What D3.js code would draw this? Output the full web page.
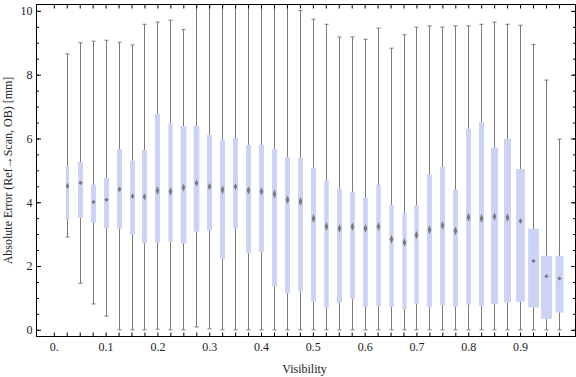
<!DOCTYPE html>
<html>
<head>
<meta charset="utf-8">
<script src="https://cdn.jsdelivr.net/npm/d3@7"></script>
<style>
  body { margin: 0; background: white; }
  text { font-family: "Liberation Serif", "DejaVu Serif", serif; }
</style>
</head>
<body>
<div id="chart"></div>
<script>
var visibility = [0.025, 0.05, 0.075, 0.1, 0.125, 0.15, 0.175, 0.2, 0.225, 0.25,
  0.275, 0.3, 0.325, 0.35, 0.375, 0.4, 0.425, 0.45, 0.475, 0.5,
  0.525, 0.55, 0.575, 0.6, 0.625, 0.65, 0.675, 0.7, 0.725, 0.75,
  0.775, 0.8, 0.825, 0.85, 0.875, 0.9, 0.925, 0.95, 0.975];
var whiskerLo = [2.91, 1.46, 0.81, 0.43, 0, 0, 0, 0.02, 0, 0,
  0.09, 0.03, 0, 0, 0, 0, 0, 0, 0, 0,
  0, 0, 0, 0, 0, 0, 0, 0, 0, 0,
  0, 0, 0, 0, 0, 0, 0, 0, 0];
var q1 = [3.44, 3.51, 3.36, 3.18, 3.17, 2.98, 2.71, 2.73, 2.76, 2.71,
  3.08, 3.11, 2.22, 3.18, 2.40, 2.44, 1.36, 1.14, 1.21, 0.88,
  0.68, 0.84, 0.96, 0.72, 0.74, 0.71, 0.64, 0.81, 0.71, 0.77,
  0.72, 0.79, 0.74, 0.81, 0.86, 0.88, 0.70, 0.34, 0.54];
var median = [4.51, 4.61, 4.01, 4.08, 4.41, 4.19, 4.17, 4.37, 4.34, 4.46,
  4.60, 4.49, 4.39, 4.49, 4.37, 4.34, 4.26, 4.08, 4.02, 3.49,
  3.24, 3.18, 3.23, 3.18, 3.24, 2.84, 2.74, 2.97, 3.14, 3.27,
  3.10, 3.53, 3.49, 3.55, 3.52, 3.41, 2.16, 1.68, 1.61];
var q3 = [5.14, 5.26, 4.55, 4.76, 5.67, 5.30, 5.64, 6.77, 6.48, 6.39,
  6.39, 6.11, 5.96, 6.02, 5.80, 5.80, 5.67, 5.42, 5.38, 5.08,
  4.69, 4.42, 4.33, 4.14, 4.55, 3.92, 3.67, 3.91, 4.87, 5.11,
  4.39, 6.30, 6.52, 5.71, 5.99, 5.04, 3.17, 2.32, 2.32];
var whiskerHi = [8.65, 9.00, 9.05, 9.08, 9.02, 8.93, 9.58, 9.65, 9.71, 9.42,
  10.6, 10.6, 10.6, 10.6, 10.6, 10.6, 10.6, 10.6, 10.01, 9.74,
  9.58, 9.18, 9.18, 9.11, 9.46, 8.83, 9.25, 9.49, 9.53, 9.49,
  9.53, 9.53, 9.58, 9.65, 9.58, 9.55, 8.95, 7.83, 5.98];
// relative sample weight, drawn as box width
var weight = [0.65, 1, 1, 1, 1, 1, 1, 1, 0.85, 1.15,
  1.15, 1, 1, 1, 1, 1, 1, 1, 1, 1,
  0.9, 1, 0.95, 0.95, 0.9, 0.85, 0.85, 0.9, 1, 1,
  1, 1, 1, 1.45, 1.4, 1.75, 2.15, 2.2, 1.6];
var xLabels = [0, 0.1, 0.2, 0.3, 0.4, 0.5, 0.6, 0.7, 0.8, 0.9];
var yMajor = [0, 2, 4, 6, 8, 10];

var data = visibility.map(function(v, i) {
  return { v: v, lo: whiskerLo[i], q1: q1[i], med: median[i], q3: q3[i], hi: whiskerHi[i], w: weight[i] };
});

var W = 576, H = 377;
var pLeft = 36.5, pRight = 575.5, pTop = 4.5, pBottom = 336.5;

var x = d3.scaleLinear().domain([-0.0334, 1.007]).range([pLeft, pRight]);
var y = d3.scaleLinear().domain([-0.21, 10.2]).range([pBottom, pTop]);
var bw = d3.scaleLinear().domain([0, 1]).range([0, 5]);
var cx = function(d) { return Math.round(x(d.v)) + 0.5; };

var svg = d3.select('#chart')
  .append('svg')
  .attr('width', W)
  .attr('height', H);

svg.append('defs').append('clipPath').attr('id', 'plot')
  .append('rect')
  .attr('x', pLeft).attr('y', pTop)
  .attr('width', pRight - pLeft).attr('height', pBottom - pTop);

var plot = svg.append('g').attr('clip-path', 'url(#plot)');

var boxes = plot.selectAll('g.box')
  .data(data)
  .enter().append('g')
  .attr('class', 'box');

boxes.append('line')
  .attr('x1', cx)
  .attr('x2', cx)
  .attr('y1', function(d) { return y(d.lo); })
  .attr('y2', function(d) { return y(d.hi); })
  .style('stroke', '#7a7a7a')
  .style('stroke-width', 1);

boxes.selectAll('line.cap')
  .data(function(d) { return [{ v: d.v, t: d.lo }, { v: d.v, t: d.hi }]; })
  .enter().append('line')
  .attr('class', 'cap')
  .attr('x1', function(d) { return cx(d) - 2; })
  .attr('x2', function(d) { return cx(d) + 2; })
  .attr('y1', function(d) { return y(d.t); })
  .attr('y2', function(d) { return y(d.t); })
  .style('stroke', '#7a7a7a')
  .style('stroke-width', 1);

boxes.append('rect')
  .attr('x', function(d) { return cx(d) - bw(d.w) / 2; })
  .attr('width', function(d) { return bw(d.w); })
  .attr('y', function(d) { return y(d.q3); })
  .attr('height', function(d) { return y(d.q1) - y(d.q3); })
  .style('fill', '#ccd3f5');

boxes.append('path')
  .attr('d', function(d) {
    var px = cx(d), py = y(d.med);
    var hh = Math.max(2, Math.min(4.5, 1.2 * (d.q3 - d.q1) / d.w));
    var hw = hh < 2.5 ? 2.2 : 1.8;
    return 'M' + px + ',' + (py - hh) + 'L' + (px + hw) + ',' + py +
      'L' + px + ',' + (py + hh) + 'L' + (px - hw) + ',' + py + 'Z';
  })
  .style('fill', '#6a6a6a')
  .style('opacity', 0.85);

// frame and ticks
var xTicks = d3.range(0, 40).map(function(i) { return i * 0.025; });
var yMinor = d3.range(0, 21).map(function(i) { return i * 0.5; });
var fmtX = function(d) {
  var k = Math.round(d * 10);
  if (Math.abs(d * 10 - k) > 1e-6 || xLabels.indexOf(k / 10) < 0) return '';
  return k === 0 ? '0.' : d3.format('.1f')(d);
};

svg.append('g')
  .attr('transform', 'translate(0,' + pBottom + ')')
  .call(d3.axisBottom(x).tickValues(xTicks).tickSize(-4).tickPadding(6).tickFormat(fmtX));
svg.append('g')
  .attr('transform', 'translate(0,' + pTop + ')')
  .call(d3.axisTop(x).tickValues(xTicks).tickSize(-4).tickFormat(''));

svg.append('g')
  .attr('transform', 'translate(' + pLeft + ',0)')
  .call(d3.axisLeft(y).tickValues(yMinor).tickSize(-2.5).tickFormat(''));
svg.append('g')
  .attr('transform', 'translate(' + pLeft + ',0)')
  .call(d3.axisLeft(y).tickValues(yMajor).tickSize(-4.5).tickPadding(4).tickFormat(d3.format('d')));
svg.append('g')
  .attr('transform', 'translate(' + pRight + ',0)')
  .call(d3.axisRight(y).tickValues(yMinor).tickSize(-2.5).tickFormat(''));
svg.append('g')
  .attr('transform', 'translate(' + pRight + ',0)')
  .call(d3.axisRight(y).tickValues(yMajor).tickSize(-4.5).tickFormat(''));

svg.selectAll('.domain').remove();
svg.selectAll('.tick line').style('stroke', '#000');
svg.selectAll('.tick text')
  .style('font-family', '"Liberation Serif", serif')
  .style('font-size', '12px')
  .style('fill', '#222');

svg.append('rect')
  .attr('x', pLeft).attr('y', pTop)
  .attr('width', pRight - pLeft).attr('height', pBottom - pTop)
  .style('fill', 'none')
  .style('stroke', '#000')
  .style('stroke-width', 1);

svg.append('text')
  .attr('x', 304.5)
  .attr('y', 373)
  .attr('text-anchor', 'middle')
  .style('font-size', '12px')
  .style('fill', '#222')
  .text('Visibility');

svg.append('text')
  .attr('transform', 'translate(12,' + (pTop + pBottom) / 2 + ') rotate(-90)')
  .attr('text-anchor', 'middle')
  .style('font-size', '12px')
  .style('fill', '#222')
  .text('Absolute Error (Ref\u2192Scan, OB) [mm]');
</script>
</body>
</html>
